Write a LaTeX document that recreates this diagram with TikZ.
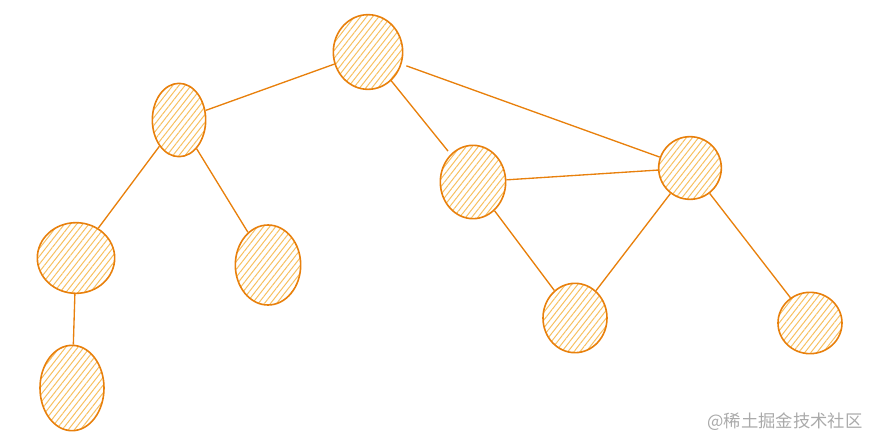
\documentclass[tikz,border=0pt]{standalone}
\usepackage{fontspec}
\newfontfamily\cjk{Noto Sans CJK SC}
\usetikzlibrary{shapes.geometric,patterns.meta}
\definecolor{sketchline}{RGB}{232,128,12}
\definecolor{sketchfill}{RGB}{247,192,96}
\definecolor{markgray}{RGB}{170,170,170}
\tikzset{
  ball/.style={ellipse,draw=sketchline,line width=1.2pt,inner sep=0pt,
    pattern={Lines[angle=52,distance=3.6pt,line width=0.75pt]},pattern color=sketchfill},
  edge/.style={draw=sketchline,line width=1pt}
}
\begin{document}
\begin{tikzpicture}[x=0.75pt,y=0.75pt,yscale=-1,xscale=1]
\useasboundingbox (0,0) rectangle (882,447);

% Nodes
\node (root) [ball,minimum width=52pt,minimum height=56pt] at (368,52) {};
\node (a) [ball,minimum width=40pt,minimum height=55pt] at (179,120) {};
\node (b) [ball,minimum width=49pt,minimum height=55pt] at (473,182) {};
\node (c) [ball,minimum width=47pt,minimum height=47pt] at (690,168) {};
\node (d) [ball,minimum width=58pt,minimum height=53pt] at (76,258) {};
\node (e) [ball,minimum width=49pt,minimum height=60pt] at (268,265) {};
\node (f) [ball,minimum width=48pt,minimum height=52pt] at (575,318) {};
\node (g) [ball,minimum width=48pt,minimum height=46pt] at (810,323) {};
\node (h) [ball,minimum width=48pt,minimum height=64pt] at (72,388) {};

% Connection
\draw [edge] (root) -- (a);
\draw [edge,shorten >=3pt] (root) -- (b);
\draw [edge,shorten <=4pt] (root) -- (c);
\draw [edge] (a) -- (d);
\draw [edge] (a) -- (e);
\draw [edge] (b) -- (c);
\draw [edge] (b) -- (f);
\draw [edge] (c) -- (f);
\draw [edge] (c) -- (g);
\draw [edge] (d) -- (h);

% Text Node
\node (mark) [text=markgray,font=\cjk\fontsize{13pt}{15pt}\selectfont] at (785,422) {@稀土掘金技术社区};

\end{tikzpicture}
\end{document}
